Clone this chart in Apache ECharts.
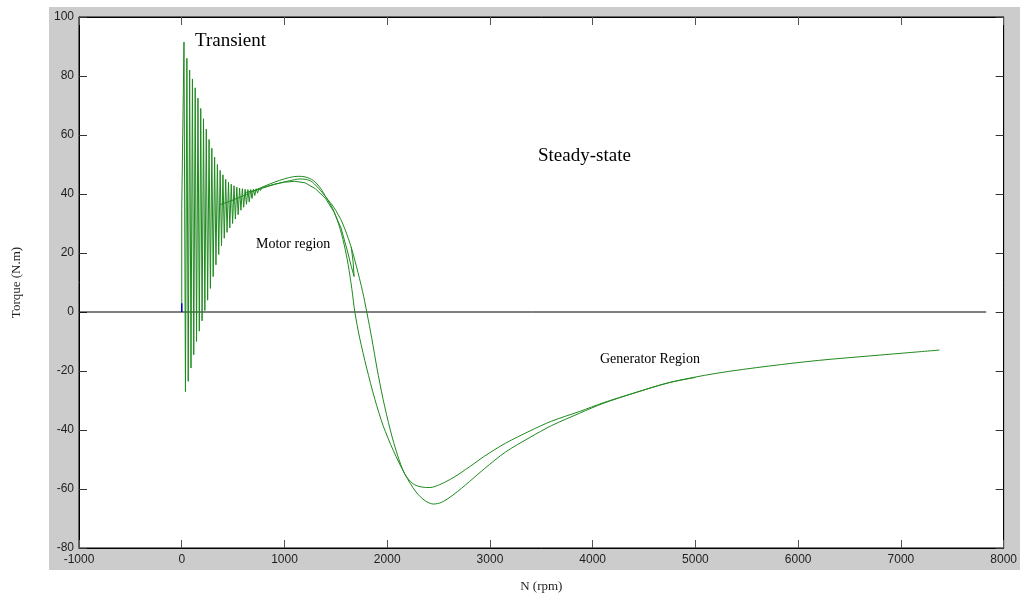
<!DOCTYPE html>
<html>
<head>
<meta charset="utf-8">
<title>Torque - speed</title>
<script src="https://cdn.jsdelivr.net/npm/echarts@6/dist/echarts.min.js"></script>
<style>
  html, body { margin: 0; padding: 0; background: #fff; }
  #main { width: 1020px; height: 598px; }
</style>
</head>
<body>
<div id="main"></div>
<script type="text/javascript">
// axis ticks
var xTicks = [-1000, 0, 1000, 2000, 3000, 4000, 5000, 6000, 7000, 8000];
var yTicks = [-80, -60, -40, -20, 0, 20, 40, 60, 80, 100];

// run-up with transient oscillation  [N (rpm), torque (N.m)]
var runUp = [
    [0, 0], [0, 35], [22, 91.5], [36, -27], [50, 86], [63, -23.5], [77, 82], [90, -19],
    [104, 79], [117, -14.5], [131, 76], [144, -10], [158, 72.5], [171, -6.5], [185, 69],
    [198, -3], [212, 65.5], [225, 0.5], [239, 62], [252, 4], [266, 58.5], [279, 8],
    [293, 55.5], [306, 12], [320, 52.5], [333, 16], [347, 50], [360, 19.5], [374, 48],
    [387, 22.5], [401, 46.5], [414, 25], [428, 45], [441, 27], [455, 44], [468, 28.5],
    [482, 43.3], [495, 30], [509, 42.8], [522, 31.5], [536, 42.3], [549, 33], [563, 42],
    [576, 34.5], [590, 41.8], [603, 35.5], [617, 41.6], [630, 36.5], [644, 41.5], [657, 37.3],
    [671, 41.5], [684, 38.5], [698, 41.6], [711, 39.5], [725, 41.8], [738, 40.3], [752, 42],
    [765, 41.2], [780, 42.2], [800, 42.3], [900, 43.3],
    [1000, 44], [1100, 44.3], [1200, 43.8], [1300, 41.8], [1400, 38.5], [1480, 34],
    [1550, 28.5], [1610, 21], [1650, 15.5], [1678, 12], [1668, 17], [1650, 22]
];

// steady-state curve 1
var steady1 = [
    [373, 36.4], [450, 37.3], [550, 38.7], [650, 40.2], [750, 41.8], [850, 43.3], [950, 44.6],
    [1050, 45.6], [1130, 46], [1200, 45.8], [1280, 44.6], [1350, 42], [1408, 38.7], [1470, 35],
    [1530, 29.5], [1580, 23], [1620, 16], [1655, 8], [1685, 0], [1730, -8.5], [1800, -19],
    [1880, -29.6], [1960, -38.5], [2060, -47], [2171, -54.9], [2280, -61], [2370, -64],
    [2450, -65.1], [2530, -64.5], [2650, -61.8], [2800, -57.5], [2950, -53], [3150, -47.5],
    [3390, -42.5], [3600, -38.5], [3874, -34.3], [4100, -31], [4400, -27.5], [4748, -23.9],
    [5200, -20.8], [5721, -18.3], [6200, -16.4], [6694, -14.9], [7000, -14], [7376, -12.9]
];

// steady-state curve 2
var steady2 = [
    [620, 40.5], [750, 41.6], [850, 42.7], [950, 43.7], [1050, 44.5], [1150, 45.1], [1250, 44.5],
    [1330, 42], [1408, 38.7], [1480, 35.5], [1560, 30.5], [1640, 23], [1700, 15.5], [1760, 7],
    [1801, 0], [1850, -9], [1900, -19], [1960, -29.6], [2030, -40], [2100, -48.5], [2171, -54.9],
    [2250, -58.2], [2330, -59.3], [2415, -59.5], [2512, -58.5], [2650, -56], [2800, -52.5],
    [2950, -48.8], [3150, -44.5], [3390, -40.3], [3600, -37], [3874, -33.7], [4100, -30.8],
    [4400, -27.5], [4748, -23.9], [5000, -22.2]
];

var zeroLine = [[-1000, 0], [7830, 0]];
var startMark = [[0, 0], [0, 3]];

var green = '#1f8a1f';
var labelFont = { color: '#1e1e1e', fontFamily: 'Liberation Sans', fontSize: 12, formatter: function (v) { return String(v); } };

var myChart = echarts.init(document.getElementById('main'));

var option = {
    animation: false,
    backgroundColor: '#fff',
    graphic: {
        elements: [
            { type: 'rect', z: -100, silent: true, shape: { x: 49, y: 7, width: 971, height: 563 }, style: { fill: '#cccccc' } },
            { type: 'text', x: 195, y: 41, style: { text: 'Transient', font: '19px "Liberation Serif"', fill: '#000', textVerticalAlign: 'middle' } },
            { type: 'text', x: 538, y: 156, style: { text: 'Steady-state', font: '19px "Liberation Serif"', fill: '#000', textVerticalAlign: 'middle' } },
            { type: 'text', x: 256, y: 244, style: { text: 'Motor region', font: '14px "Liberation Serif"', fill: '#000', textVerticalAlign: 'middle' } },
            { type: 'text', x: 600, y: 359, style: { text: 'Generator Region', font: '14px "Liberation Serif"', fill: '#000', textVerticalAlign: 'middle' } }
        ]
    },
    grid: {
        left: 79, right: 16, top: 17, bottom: 49,
        show: true, backgroundColor: '#fff', borderColor: '#000', borderWidth: 1
    },
    xAxis: [
        {
            type: 'value', min: -1000, max: 8000, interval: 1000,
            name: 'N (rpm)', nameLocation: 'middle', nameGap: 32,
            nameTextStyle: { color: '#1e1e1e', fontFamily: 'Liberation Serif', fontSize: 13 },
            axisLine: { onZero: false, lineStyle: { color: '#000' } },
            axisTick: { inside: true, length: 8, lineStyle: { color: '#555' } },
            axisLabel: Object.assign({ margin: 6 }, labelFont),
            splitLine: { show: false }
        },
        {
            type: 'value', position: 'top', min: -1000, max: 8000, interval: 1000,
            axisLine: { onZero: false, lineStyle: { color: '#000' } },
            axisTick: { inside: true, length: 8, lineStyle: { color: '#555' } },
            axisLabel: { show: false },
            splitLine: { show: false }
        }
    ],
    yAxis: [
        {
            type: 'value', min: -80, max: 100, interval: 20,
            name: 'Torque (N.m)', nameLocation: 'middle', nameGap: 56, nameRotate: 90,
            nameTextStyle: { color: '#1e1e1e', fontFamily: 'Liberation Serif', fontSize: 13 },
            axisLine: { onZero: false, lineStyle: { color: '#000' } },
            axisTick: { inside: true, length: 8, lineStyle: { color: '#333' } },
            axisLabel: Object.assign({ margin: 5 }, labelFont),
            splitLine: { show: false }
        },
        {
            type: 'value', position: 'right', min: -80, max: 100, interval: 20,
            axisLine: { onZero: false, lineStyle: { color: '#000' } },
            axisTick: { inside: true, length: 8, lineStyle: { color: '#333' } },
            axisLabel: { show: false },
            splitLine: { show: false }
        }
    ],
    series: [
        { name: 'zero', type: 'line', data: zeroLine, showSymbol: false, lineStyle: { color: '#000', width: 1 }, z: 1 },
        { name: 'run-up', type: 'line', data: runUp, showSymbol: false, lineStyle: { color: green, width: 1 } },
        { name: 'steady 1', type: 'line', data: steady1, showSymbol: false, smooth: 0.3, lineStyle: { color: green, width: 1 } },
        { name: 'steady 2', type: 'line', data: steady2, showSymbol: false, smooth: 0.3, lineStyle: { color: green, width: 1 } },
        { name: 'start', type: 'line', data: startMark, showSymbol: false, lineStyle: { color: '#0000cc', width: 1.5 } }
    ]
};

myChart.setOption(option);
</script>
</body>
</html>
